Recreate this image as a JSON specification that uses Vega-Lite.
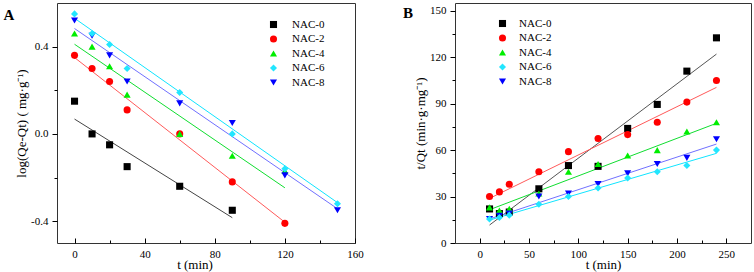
{
  "$schema": "https://vega.github.io/schema/vega-lite/v6.json",
  "background": "white",
  "padding": {"left": 3, "top": 2, "right": 3, "bottom": 2},
  "spacing": 100,
  "bounds": "flush",
  "config": {
    "font": "Liberation Serif",
    "view": {"stroke": "#333333", "strokeWidth": 1},
    "axis": {
      "domain": false, "grid": false,
      "labelFont": "Liberation Serif", "labelFontSize": 11, "labelColor": "#000000",
      "titleFont": "Liberation Serif", "titleFontSize": 13, "titleFontWeight": "normal", "titleColor": "#000000",
      "tickColor": "#000000", "labelFlush": false, "labelOverlap": false
    },
    "legend": {
      "labelFont": "Liberation Serif", "labelFontSize": 11, "labelColor": "#000000",
      "symbolSize": 50, "symbolStrokeWidth": 0, "rowPadding": 2.5, "padding": 0
    }
  },
  "datasets": {
    "A_pts": [
      {"s": "NAC-0", "t": 0, "v": 0.15}, {"s": "NAC-0", "t": 10, "v": 0.0}, {"s": "NAC-0", "t": 20, "v": -0.05},
      {"s": "NAC-0", "t": 30, "v": -0.15}, {"s": "NAC-0", "t": 60, "v": -0.24}, {"s": "NAC-0", "t": 90, "v": -0.35},
      {"s": "NAC-2", "t": 0, "v": 0.36}, {"s": "NAC-2", "t": 10, "v": 0.30}, {"s": "NAC-2", "t": 20, "v": 0.24},
      {"s": "NAC-2", "t": 30, "v": 0.11}, {"s": "NAC-2", "t": 60, "v": 0.0}, {"s": "NAC-2", "t": 90, "v": -0.22},
      {"s": "NAC-2", "t": 120, "v": -0.41},
      {"s": "NAC-4", "t": 0, "v": 0.46}, {"s": "NAC-4", "t": 10, "v": 0.40}, {"s": "NAC-4", "t": 20, "v": 0.31},
      {"s": "NAC-4", "t": 30, "v": 0.18}, {"s": "NAC-4", "t": 60, "v": 0.0}, {"s": "NAC-4", "t": 90, "v": -0.10},
      {"s": "NAC-4", "t": 120, "v": -0.17},
      {"s": "NAC-8", "t": 0, "v": 0.52}, {"s": "NAC-8", "t": 10, "v": 0.45}, {"s": "NAC-8", "t": 20, "v": 0.36},
      {"s": "NAC-8", "t": 30, "v": 0.24}, {"s": "NAC-8", "t": 60, "v": 0.14}, {"s": "NAC-8", "t": 90, "v": 0.05},
      {"s": "NAC-8", "t": 120, "v": -0.19}, {"s": "NAC-8", "t": 150, "v": -0.35},
      {"s": "NAC-6", "t": 0, "v": 0.55}, {"s": "NAC-6", "t": 10, "v": 0.46}, {"s": "NAC-6", "t": 20, "v": 0.41},
      {"s": "NAC-6", "t": 30, "v": 0.30}, {"s": "NAC-6", "t": 60, "v": 0.19}, {"s": "NAC-6", "t": 90, "v": 0.0},
      {"s": "NAC-6", "t": 120, "v": -0.16}, {"s": "NAC-6", "t": 150, "v": -0.32}
    ],
    "A_fit": [
      {"fit": "NAC-0 fit", "t": 0, "v": 0.068}, {"fit": "NAC-0 fit", "t": 90, "v": -0.384},
      {"fit": "NAC-2 fit", "t": 0, "v": 0.35}, {"fit": "NAC-2 fit", "t": 120, "v": -0.405},
      {"fit": "NAC-4 fit", "t": 0, "v": 0.411}, {"fit": "NAC-4 fit", "t": 120, "v": -0.247},
      {"fit": "NAC-8 fit", "t": 0, "v": 0.483}, {"fit": "NAC-8 fit", "t": 150, "v": -0.343},
      {"fit": "NAC-6 fit", "t": 0, "v": 0.53}, {"fit": "NAC-6 fit", "t": 150, "v": -0.315}
    ],
    "A_lab": [{"lab": "A", "t": -40.5, "v": 0.524}],
    "B_pts": [
      {"s": "NAC-0", "t": 10, "v": 22}, {"s": "NAC-0", "t": 20, "v": 19}, {"s": "NAC-0", "t": 30, "v": 20},
      {"s": "NAC-0", "t": 60, "v": 35}, {"s": "NAC-0", "t": 90, "v": 50}, {"s": "NAC-0", "t": 120, "v": 49.5},
      {"s": "NAC-0", "t": 150, "v": 74}, {"s": "NAC-0", "t": 180, "v": 89.5}, {"s": "NAC-0", "t": 210, "v": 111},
      {"s": "NAC-0", "t": 240, "v": 132.5},
      {"s": "NAC-2", "t": 10, "v": 30}, {"s": "NAC-2", "t": 20, "v": 33}, {"s": "NAC-2", "t": 30, "v": 38},
      {"s": "NAC-2", "t": 60, "v": 46}, {"s": "NAC-2", "t": 90, "v": 59}, {"s": "NAC-2", "t": 120, "v": 67.5},
      {"s": "NAC-2", "t": 150, "v": 70}, {"s": "NAC-2", "t": 180, "v": 78}, {"s": "NAC-2", "t": 210, "v": 91},
      {"s": "NAC-2", "t": 240, "v": 105},
      {"s": "NAC-4", "t": 10, "v": 23}, {"s": "NAC-4", "t": 20, "v": 21}, {"s": "NAC-4", "t": 30, "v": 22},
      {"s": "NAC-4", "t": 60, "v": 32}, {"s": "NAC-4", "t": 90, "v": 46}, {"s": "NAC-4", "t": 120, "v": 51},
      {"s": "NAC-4", "t": 150, "v": 56.5}, {"s": "NAC-4", "t": 180, "v": 60}, {"s": "NAC-4", "t": 210, "v": 72},
      {"s": "NAC-4", "t": 240, "v": 78},
      {"s": "NAC-8", "t": 10, "v": 15.5}, {"s": "NAC-8", "t": 20, "v": 17.5}, {"s": "NAC-8", "t": 30, "v": 19},
      {"s": "NAC-8", "t": 60, "v": 30}, {"s": "NAC-8", "t": 90, "v": 32}, {"s": "NAC-8", "t": 120, "v": 38},
      {"s": "NAC-8", "t": 150, "v": 45}, {"s": "NAC-8", "t": 180, "v": 51}, {"s": "NAC-8", "t": 210, "v": 55},
      {"s": "NAC-8", "t": 240, "v": 67},
      {"s": "NAC-6", "t": 10, "v": 15.5}, {"s": "NAC-6", "t": 20, "v": 16.5}, {"s": "NAC-6", "t": 30, "v": 18},
      {"s": "NAC-6", "t": 60, "v": 25}, {"s": "NAC-6", "t": 90, "v": 30}, {"s": "NAC-6", "t": 120, "v": 35.5},
      {"s": "NAC-6", "t": 150, "v": 42}, {"s": "NAC-6", "t": 180, "v": 46}, {"s": "NAC-6", "t": 210, "v": 50},
      {"s": "NAC-6", "t": 240, "v": 60}
    ],
    "B_fit": [
      {"fit": "NAC-0 fit", "t": 10, "v": 11.6}, {"fit": "NAC-0 fit", "t": 240, "v": 122},
      {"fit": "NAC-2 fit", "t": 10, "v": 28.8}, {"fit": "NAC-2 fit", "t": 240, "v": 100.5},
      {"fit": "NAC-4 fit", "t": 10, "v": 21.5}, {"fit": "NAC-4 fit", "t": 240, "v": 77.3},
      {"fit": "NAC-8 fit", "t": 10, "v": 15.5}, {"fit": "NAC-8 fit", "t": 240, "v": 63.9},
      {"fit": "NAC-6 fit", "t": 10, "v": 14.8}, {"fit": "NAC-6 fit", "t": 240, "v": 57.9}
    ],
    "B_lab": [{"lab": "B", "t": -77.8, "v": 145.2}]
  },
  "resolve": {
    "scale": {"color": "independent", "shape": "independent", "stroke": "independent"},
    "legend": {"color": "independent", "shape": "independent"}
  },
  "hconcat": [
    {
      "width": 298, "height": 240,
      "encoding": {
        "x": {"field": "t", "type": "quantitative",
          "scale": {"domain": [-10, 160], "nice": false, "zero": false},
          "axis": {"title": "t  (min)", "values": [0, 20, 40, 60, 80, 100, 120, 140, 160],
            "labelExpr": "datum.value % 40 === 0 ? datum.label : ''",
            "tickSize": {"condition": {"test": "datum.value % 40 === 0", "value": -5}, "value": -3},
            "labelPadding": 10, "titlePadding": -3, "titleX": 137.5}},
        "y": {"field": "v", "type": "quantitative",
          "scale": {"domain": [-0.5, 0.6], "nice": false, "zero": false},
          "axis": {"title": "log(Qe-Qt)  ( mg·g⁻¹)", "values": [-0.4, -0.2, 0, 0.2, 0.4],
            "labelExpr": "abs(datum.value * 10 % 4) < 0.01 ? replace(format(datum.value, '.1f'), '−', '-') : ''",
            "tickSize": {"condition": {"test": "abs(datum.value * 10 % 4) < 0.01", "value": 5}, "value": 3},
            "labelPadding": 4, "titlePadding": 2}}
      },
      "layer": [
        {"data": {"name": "A_fit"}, "mark": {"type": "line", "strokeWidth": 1},
          "encoding": {"stroke": {"field": "fit", "type": "nominal",
            "scale": {"domain": ["NAC-0 fit", "NAC-2 fit", "NAC-4 fit", "NAC-6 fit", "NAC-8 fit"],
              "range": ["#444444", "#ff5a5a", "#10dd30", "#10e4ff", "#7070ff"]}, "legend": null}}},
        {"data": {"name": "A_pts"}, "mark": {"type": "point", "filled": true, "size": 50, "opacity": 1},
          "encoding": {
            "color": {"field": "s", "type": "nominal", "title": null,
              "scale": {"domain": ["NAC-0", "NAC-2", "NAC-4", "NAC-6", "NAC-8"],
                "range": ["#000000", "#ff0000", "#00ee00", "#22e6ff", "#0000ff"]},
              "legend": {"orient": "none", "legendX": 211, "legendY": 16, "labelOffset": 13,
                "labelFont": "Liberation Serif", "labelFontSize": 11, "symbolSize": 50, "padding": 0, "rowPadding": 2.5}},
            "shape": {"field": "s", "type": "nominal", "title": null,
              "scale": {"domain": ["NAC-0", "NAC-2", "NAC-4", "NAC-6", "NAC-8"],
                "range": ["square", "circle", "triangle-up", "diamond", "triangle-down"]},
              "legend": {"orient": "none", "legendX": 211, "legendY": 16, "labelOffset": 13,
                "labelFont": "Liberation Serif", "labelFontSize": 11, "symbolSize": 50, "padding": 0, "rowPadding": 2.5}}}},
        {"data": {"name": "A_lab"}, "mark": {"type": "text", "align": "left", "baseline": "alphabetic",
          "fontSize": 15, "fontWeight": "bold", "font": "Liberation Serif", "color": "#000000"},
          "encoding": {"text": {"field": "lab"}}}
      ]
    },
    {
      "width": 296, "height": 240,
      "encoding": {
        "x": {"field": "t", "type": "quantitative",
          "scale": {"domain": [-25, 275], "nice": false, "zero": false},
          "axis": {"title": "t (min)", "values": [0, 25, 50, 75, 100, 125, 150, 175, 200, 225, 250],
            "labelExpr": "datum.value % 50 === 0 ? datum.label : ''",
            "tickSize": {"condition": {"test": "datum.value % 50 === 0", "value": -5}, "value": -3},
            "labelPadding": 10, "titlePadding": -3}},
        "y": {"field": "v", "type": "quantitative",
          "scale": {"domain": [0, 155], "nice": false, "zero": false},
          "axis": {"title": "t/Qt (min·g·mg⁻¹)", "values": [0, 15, 30, 45, 60, 75, 90, 105, 120, 135, 150],
            "labelExpr": "datum.value % 30 === 0 ? datum.label : ''",
            "tickSize": {"condition": {"test": "datum.value % 30 === 0", "value": 5}, "value": 3},
            "labelPadding": 4, "titlePadding": 2}}
      },
      "layer": [
        {"data": {"name": "B_fit"}, "mark": {"type": "line", "strokeWidth": 1},
          "encoding": {"stroke": {"field": "fit", "type": "nominal",
            "scale": {"domain": ["NAC-0 fit", "NAC-2 fit", "NAC-4 fit", "NAC-6 fit", "NAC-8 fit"],
              "range": ["#555555", "#ff5a5a", "#10dd30", "#10e4ff", "#7070ff"]}, "legend": null}}},
        {"data": {"name": "B_pts"}, "mark": {"type": "point", "filled": true, "size": 50, "opacity": 1},
          "encoding": {
            "color": {"field": "s", "type": "nominal", "title": null,
              "scale": {"domain": ["NAC-0", "NAC-2", "NAC-4", "NAC-6", "NAC-8"],
                "range": ["#000000", "#ff0000", "#00ee00", "#22e6ff", "#0000ff"]},
              "legend": {"orient": "none", "legendX": 42, "legendY": 15, "labelOffset": 11,
                "labelFont": "Liberation Serif", "labelFontSize": 11, "symbolSize": 50, "padding": 0, "rowPadding": 2.5}},
            "shape": {"field": "s", "type": "nominal", "title": null,
              "scale": {"domain": ["NAC-0", "NAC-2", "NAC-4", "NAC-6", "NAC-8"],
                "range": ["square", "circle", "triangle-up", "diamond", "triangle-down"]},
              "legend": {"orient": "none", "legendX": 42, "legendY": 15, "labelOffset": 11,
                "labelFont": "Liberation Serif", "labelFontSize": 11, "symbolSize": 50, "padding": 0, "rowPadding": 2.5}}}},
        {"data": {"name": "B_lab"}, "mark": {"type": "text", "align": "left", "baseline": "alphabetic",
          "fontSize": 15, "fontWeight": "bold", "font": "Liberation Serif", "color": "#000000"},
          "encoding": {"text": {"field": "lab"}}}
      ]
    }
  ]
}
